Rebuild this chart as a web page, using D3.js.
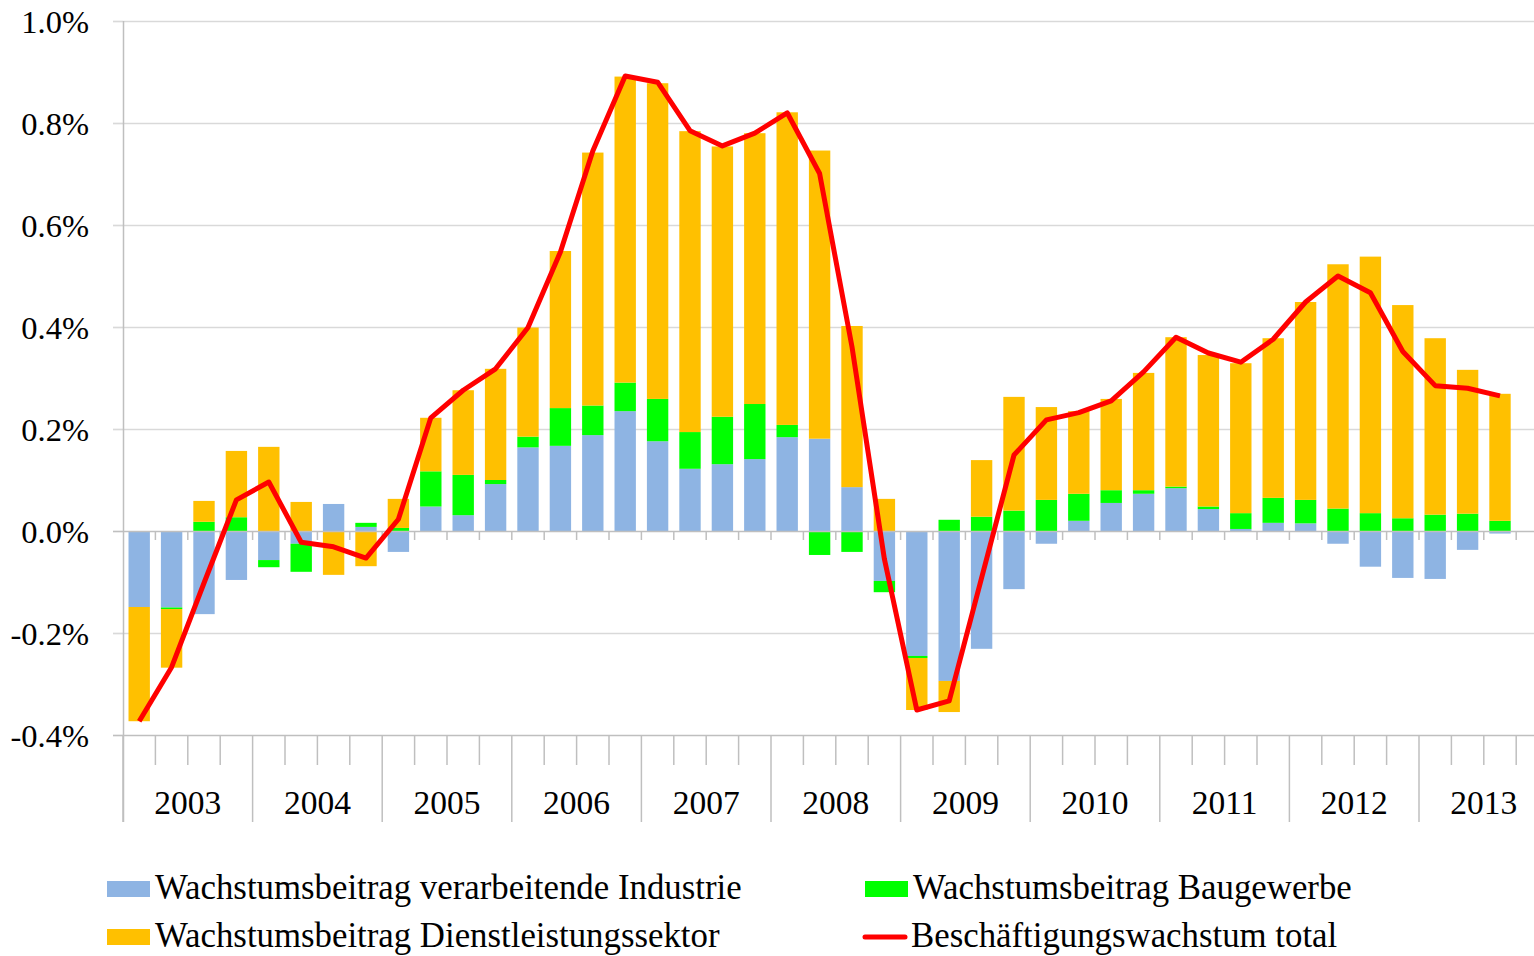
<!DOCTYPE html>
<html>
<head>
<meta charset="utf-8">
<script src="https://cdn.jsdelivr.net/npm/d3@7"></script>
<style>
  html, body { margin: 0; padding: 0; background: #fff; }
  svg { display: block; }
  text { font-family: "Liberation Serif", "Times New Roman", serif; fill: #000; }
</style>
</head>
<body>
<div id="chart"></div>
<script>
"use strict";

// quarterly contributions to employment growth, in percent
const years = [2003, 2004, 2005, 2006, 2007, 2008, 2009, 2010, 2011, 2012, 2013];
const quarters = ["Q1", "Q2", "Q3", "Q4"];

const industrie = [
  -0.149, -0.150, -0.163, -0.096, -0.057, -0.025, 0.053, 0.008, -0.041, 0.048, 0.031,
  0.092, 0.164, 0.167, 0.188, 0.235, 0.176, 0.122, 0.131, 0.141, 0.184, 0.181,
  0.086, -0.098, -0.245, -0.294, -0.231, -0.114, -0.025, 0.020, 0.055, 0.073, 0.084,
  0.043, 0.004, 0.016, 0.015, -0.025, -0.070, -0.092, -0.094, -0.037, -0.005
];
const bau = [
  0.000, -0.003, 0.018, 0.027, -0.014, -0.055, 0.000, 0.008, 0.006, 0.069, 0.079,
  0.008, 0.021, 0.074, 0.058, 0.056, 0.083, 0.072, 0.093, 0.108, 0.024, -0.047,
  -0.041, -0.022, -0.004, 0.022, 0.028, 0.040, 0.061, 0.053, 0.025, 0.007, 0.003,
  0.005, 0.031, 0.049, 0.046, 0.044, 0.035, 0.025, 0.032, 0.034, 0.020
];
const dienst = [
  -0.224, -0.115, 0.041, 0.130, 0.165, 0.057, -0.086, -0.069, 0.057, 0.105, 0.166,
  0.218, 0.214, 0.308, 0.496, 0.600, 0.619, 0.590, 0.530, 0.531, 0.613, 0.565,
  0.316, 0.063, -0.102, -0.061, 0.111, 0.223, 0.182, 0.162, 0.179, 0.230, 0.293,
  0.297, 0.294, 0.313, 0.388, 0.479, 0.503, 0.418, 0.346, 0.282, 0.249
];
const total = [
  -0.373, -0.267, -0.102, 0.061, 0.096, -0.022, -0.031, -0.053, 0.023, 0.222, 0.276,
  0.318, 0.399, 0.547, 0.745, 0.892, 0.880, 0.785, 0.755, 0.780, 0.820, 0.701,
  0.361, -0.055, -0.351, -0.333, -0.092, 0.149, 0.218, 0.232, 0.255, 0.312, 0.380,
  0.349, 0.331, 0.376, 0.449, 0.500, 0.467, 0.352, 0.285, 0.280, 0.265
];
const yTicks = [-0.4, -0.2, 0.0, 0.2, 0.4, 0.6, 0.8, 1.0];

const seriesKeys = ["industrie", "bau", "dienst"];
const seriesNames = {
  industrie: "Wachstumsbeitrag verarbeitende Industrie",
  bau: "Wachstumsbeitrag Baugewerbe",
  dienst: "Wachstumsbeitrag Dienstleistungssektor",
  total: "Beschäftigungswachstum total"
};
const colors = { industrie: "#8eb4e3", bau: "#00ff00", dienst: "#ffc000", total: "#ff0000" };

const categories = [];
for (const yr of years) {
  for (const q of quarters) categories.push(yr + " " + q);
}
const rows = industrie.map((v, i) => ({
  cat: categories[i], industrie: v, bau: bau[i], dienst: dienst[i], total: total[i]
}));

const svgW = 1534, svgH = 956;
const plotLeft = 123, plotTop = 21, plotBottom = 735;
const step = 32.4;
const plotRight = plotLeft + categories.length * step;

const svg = d3.select("#chart").append("svg")
  .attr("width", svgW)
  .attr("height", svgH);

const x = d3.scaleBand()
  .domain(categories)
  .range([plotLeft, plotRight])
  .paddingInner(0.34)
  .paddingOuter(0.17);
const xEdge = d3.scaleLinear()
  .domain([0, categories.length])
  .range([plotLeft, plotRight]);
const y = d3.scaleLinear()
  .domain([-0.4, 1.0])
  .range([plotBottom, plotTop]);

// gridlines
svg.append("g")
  .selectAll("line")
  .data(yTicks.filter(d => d !== 0 && d !== -0.4))
  .enter()
  .append("line")
  .attr("x1", plotLeft - 10)
  .attr("x2", svgW)
  .attr("y1", d => Math.round(y(d)) + 0.5)
  .attr("y2", d => Math.round(y(d)) + 0.5)
  .attr("stroke", "#d9d9d9")
  .attr("stroke-width", 1.3);

// y axis
const yAxis = d3.axisLeft(y)
  .tickValues(yTicks)
  .tickSize(10)
  .tickPadding(24)
  .tickFormat(d => d.toFixed(1) + "%");
const gy = svg.append("g")
  .attr("transform", `translate(${plotLeft}, 0)`)
  .call(yAxis);
gy.select(".domain").remove();
gy.selectAll(".tick line").attr("stroke", "#d9d9d9").attr("stroke-width", 1.3);
gy.selectAll(".tick text")
  .attr("font-size", 32.5)
  .attr("font-family", "Liberation Serif, Times New Roman, serif")
  .attr("dy", "0.34em");

// bars
const stack = d3.stack()
  .keys(seriesKeys)
  .offset(d3.stackOffsetDiverging);
const stacked = stack(rows);

svg.append("g")
  .selectAll("g")
  .data(stacked)
  .enter()
  .append("g")
  .attr("fill", d => colors[d.key])
  .selectAll("rect")
  .data(d => d)
  .enter()
  .append("rect")
  .attr("x", d => x(d.data.cat))
  .attr("width", x.bandwidth())
  .attr("y", d => y(Math.max(d[0], d[1])))
  .attr("height", d => Math.abs(y(d[0]) - y(d[1])));

// zero line with small ticks
svg.append("line")
  .attr("x1", plotLeft - 10)
  .attr("x2", svgW)
  .attr("y1", Math.round(y(0)) + 0.5)
  .attr("y2", Math.round(y(0)) + 0.5)
  .attr("stroke", "#bfbfbf")
  .attr("stroke-width", 1.5);
svg.append("g")
  .selectAll("line")
  .data(d3.range(1, categories.length + 1))
  .enter()
  .append("line")
  .attr("x1", d => xEdge(d))
  .attr("x2", d => xEdge(d))
  .attr("y1", y(0))
  .attr("y2", y(0) + 9)
  .attr("stroke", "#bfbfbf")
  .attr("stroke-width", 1.5);

// category axis at the bottom
svg.append("line")
  .attr("x1", plotLeft - 10)
  .attr("x2", svgW)
  .attr("y1", Math.round(plotBottom) + 0.5)
  .attr("y2", Math.round(plotBottom) + 0.5)
  .attr("stroke", "#bfbfbf")
  .attr("stroke-width", 1.5);
svg.append("g")
  .selectAll("line")
  .data(d3.range(0, categories.length + 1))
  .enter()
  .append("line")
  .attr("x1", d => xEdge(d))
  .attr("x2", d => xEdge(d))
  .attr("y1", plotBottom)
  .attr("y2", d => d % 4 === 0 ? 822 : 765)
  .attr("stroke", "#bfbfbf")
  .attr("stroke-width", 1.5);

svg.append("g")
  .selectAll("text")
  .data(years)
  .enter()
  .append("text")
  .attr("x", (d, i) => xEdge(i * 4 + 2))
  .attr("y", 814)
  .attr("text-anchor", "middle")
  .attr("font-size", 33.5)
  .text(d => d);

// value axis line
svg.append("line")
  .attr("x1", plotLeft + 0.5)
  .attr("x2", plotLeft + 0.5)
  .attr("y1", plotTop)
  .attr("y2", 822)
  .attr("stroke", "#bfbfbf")
  .attr("stroke-width", 1.5);

// total line
const line = d3.line()
  .x(d => x(d.cat) + x.bandwidth() / 2)
  .y(d => y(d.total));
svg.append("path")
  .datum(rows)
  .attr("d", line)
  .attr("fill", "none")
  .attr("stroke", colors.total)
  .attr("stroke-width", 5)
  .attr("stroke-linejoin", "round");

// legend
const legendItems = [
  { key: "industrie", lx: 107, ly: 889 },
  { key: "bau", lx: 865, ly: 889 },
  { key: "dienst", lx: 107, ly: 937 },
  { key: "total", lx: 863, ly: 937 }
];
const legend = svg.append("g");
legendItems.forEach(item => {
  if (item.key === "total") {
    legend.append("line")
      .attr("x1", item.lx + 2)
      .attr("x2", item.lx + 42)
      .attr("y1", item.ly)
      .attr("y2", item.ly)
      .attr("stroke", colors.total)
      .attr("stroke-width", 5)
      .attr("stroke-linecap", "round");
  } else {
    legend.append("rect")
      .attr("x", item.lx)
      .attr("y", item.ly - 8)
      .attr("width", 43)
      .attr("height", 16)
      .attr("fill", colors[item.key]);
  }
  legend.append("text")
    .attr("x", item.lx + 48)
    .attr("y", item.ly + 10)
    .attr("font-size", 34.8)
    .text(seriesNames[item.key]);
});
</script>
</body>
</html>
